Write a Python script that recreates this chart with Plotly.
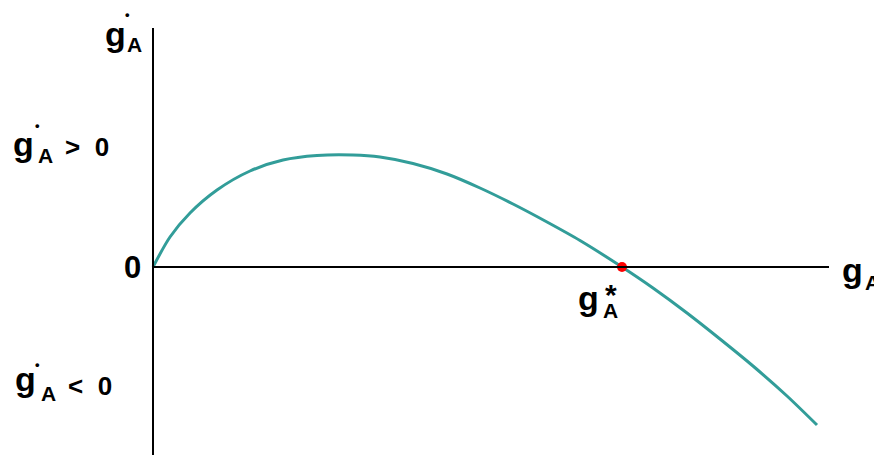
import plotly.graph_objects as go

# growth-rate curve (gA, gA-dot)
g_a = [0, 0.17, 0.37, 0.64, 0.97, 1.30, 1.64, 2.00, 2.27, 2.60, 2.94,
       3.27, 3.60, 3.94, 4.27, 4.69, 5.00, 5.34, 5.67, 6.00, 6.34, 6.64]
g_dot = [0, 0.30, 0.54, 0.77, 0.96, 1.07, 1.115, 1.12, 1.10, 1.035, 0.93,
         0.79, 0.63, 0.45, 0.265, 0.0, -0.21, -0.46, -0.72, -0.99, -1.29, -1.58]

# steady state
g_star = [4.69]
g_star_dot = [0.0]

# axis extents
x_axis_end = 6.76
y_axis_top = 2.39
y_axis_bottom = -1.88

TEAL = "#329D99"
FONT = "Liberation Sans, Arial, sans-serif"

fig = go.Figure()

fig.add_trace(go.Scatter(
    x=g_a, y=g_dot, mode="lines",
    line=dict(color=TEAL, width=3, shape="spline", smoothing=0.8),
    hoverinfo="skip", showlegend=False,
))
fig.add_trace(go.Scatter(
    x=g_star, y=g_star_dot, mode="markers", marker=dict(color="#FF0000", size=10),
    hoverinfo="skip", showlegend=False,
))

# axes drawn as plain lines
fig.add_shape(type="line", x0=0, x1=0, y0=y_axis_bottom, y1=y_axis_top,
              line=dict(color="black", width=2))
fig.add_shape(type="line", x0=0, x1=x_axis_end, y0=0, y1=0,
              line=dict(color="black", width=2))


def label(text, x, y, size=27, xanchor="left", yanchor="middle"):
    fig.add_annotation(x=x, y=y, text="<b>" + text + "</b>", showarrow=False,
                       xanchor=xanchor, yanchor=yanchor,
                       font=dict(family=FONT, size=size, color="black"))


def g_label(gx, gy, ax, ay, dot=None, star=None):
    # big g, a subscript A, and a dot or star over it
    label("g", gx, gy, size=34)
    label("A", ax, ay, size=21, xanchor="center")
    if dot:
        label("•", dot[0], dot[1], size=13, xanchor="center")
    if star:
        label("*", star[0], star[1], size=30, xanchor="center")


# y-axis title
g_label(-0.50, 2.33, -0.185, 2.225, dot=(-0.26, 2.53))

# sign labels
g_label(-1.42, 1.23, -1.075, 1.12, dot=(-1.16, 1.42))
label("&gt;&nbsp;&nbsp;0", -0.90, 1.20, size=26)
g_label(-1.40, -1.12, -1.045, -1.265, dot=(-1.16, -0.97))
label("&lt;&nbsp;&nbsp;0", -0.875, -1.19, size=26)

# origin
label("0", -0.10, 0.0, size=31, xanchor="right")

# x-axis title
g_label(6.87, -0.03, 7.195, -0.15)

# steady-state label
g_label(4.23, -0.305, 4.57, -0.43, star=(4.58, -0.27))

# page body adds an 8px margin, so the figure is 8px smaller than the window
fig.update_xaxes(range=[-1.45, 7.29], visible=False)
fig.update_yaxes(range=[-1.88, 2.59], visible=False)
fig.update_layout(
    width=874, height=447, margin=dict(l=0, r=0, t=0, b=0),
    paper_bgcolor="white", plot_bgcolor="white",
)

fig.write_html("out.html")
